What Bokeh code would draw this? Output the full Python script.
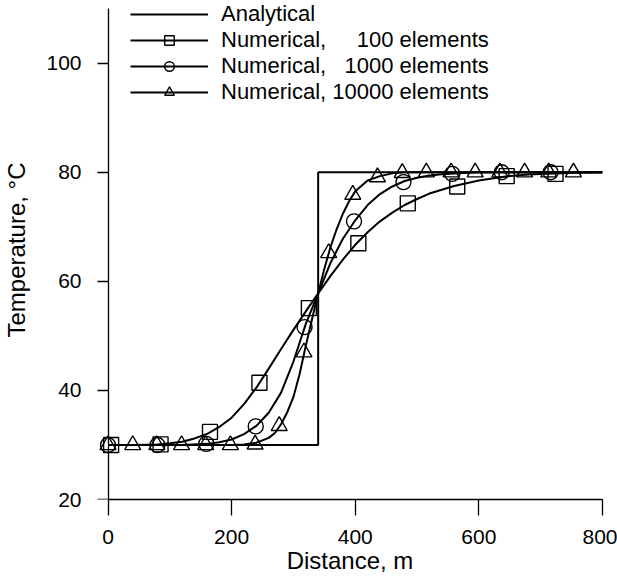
from bokeh.plotting import figure
from bokeh.models import Range1d, Legend, LegendItem, FixedTicker, LinearAxis
from bokeh.embed import file_html
from bokeh.resources import INLINE

# ---------------- data ----------------
analytical_x = [0, 340, 340, 800]
analytical_y = [30, 30, 80, 80]

curve100_x = [0, 40, 80, 100, 120, 140, 160, 180, 200, 220, 240, 260, 280, 300, 320,
              340, 360, 380, 400, 420, 440, 460, 480, 500, 520, 560, 600, 640, 680,
              720, 760, 800]
curve100_y = [30.0, 30.0, 30.1, 30.3, 30.6, 31.2, 32.0, 33.3, 35.0, 37.5, 40.5, 44.0,
              47.6, 51.1, 54.5, 57.8, 61.0, 64.0, 66.7, 69.0, 71.0, 72.6, 74.0, 75.1,
              76.1, 77.5, 78.5, 79.2, 79.6, 79.8, 79.9, 80.0]

curve1000_x = [0, 40, 80, 120, 160, 180, 200, 220, 240, 260, 280, 300, 320, 340, 360,
               380, 400, 420, 440, 460, 480, 500, 520, 540, 560, 600, 640, 680, 720,
               760, 800]
curve1000_y = [30.0, 30.0, 30.0, 30.0, 30.2, 30.5, 31.0, 32.0, 33.5, 35.9, 39.6, 45.3,
               52.2, 57.8, 63.4, 67.8, 71.2, 74.0, 76.0, 77.4, 78.4, 79.0, 79.4, 79.65,
               79.8, 80.0, 80.0, 80.0, 80.0, 80.0, 80.0]

curve10000_x = [0, 40, 80, 120, 160, 200, 220, 240, 260, 270, 280, 290, 300, 310, 320,
                330, 340, 350, 360, 370, 380, 390, 400, 420, 440, 460, 480, 520, 560,
                600, 640, 680, 720, 760, 800]
curve10000_y = [30.0, 30.0, 30.0, 30.0, 30.0, 30.0, 30.1, 30.4, 31.3, 32.2, 33.8, 36.0,
                38.8, 43.0, 48.2, 53.0, 57.8, 62.3, 66.3, 69.6, 72.4, 74.7, 76.5, 78.5,
                79.3, 79.8, 80.0, 80.0, 80.0, 80.0, 80.0, 80.0, 80.0, 80.0, 80.0]

squares_x = [5, 85, 165, 245, 325, 405, 485, 565, 645, 724]
squares_y = [30.0, 30.1, 32.4, 41.4, 55.1, 67.0, 74.3, 77.4, 79.3, 79.7]

circles_x = [0, 80, 159, 239, 318, 398, 478, 557, 637, 716]
circles_y = [30.0, 30.0, 30.2, 33.4, 51.6, 71.0, 78.2, 79.7, 80.0, 80.0]

triangles_x = [0, 40, 79, 119, 158, 198, 238, 277, 317, 357, 396, 436, 476, 515, 555,
               594, 634, 674, 713, 753]
triangles_y = [30.0, 30.0, 30.0, 30.0, 30.0, 30.0, 30.1, 33.5, 47.0, 65.2, 75.9, 79.1,
               79.9, 80.0, 80.0, 80.0, 80.0, 80.0, 80.0, 80.0]

x_ticks = [0, 200, 400, 600, 800]
y_ticks = [20, 40, 60, 80, 100]

labels = ["Analytical",
          "Numerical,\u00a0\u00a0\u00a0\u00a0\u00a0100 elements",
          "Numerical,\u00a0\u00a0\u00a01000 elements",
          "Numerical, 10000 elements"]

FONT = "Liberation Sans"

# ---------------- figure ----------------
# frame slightly larger than the axes so markers at the edges are not clipped
p = figure(width=617, height=576, output_backend="svg", toolbar_location=None,
           x_range=Range1d(-17, 800), y_range=Range1d(20, 111.5),
           min_border_left=97, min_border_right=15, min_border_top=0,
           min_border_bottom=77)
p.outline_line_color = None
p.xgrid.visible = False
p.ygrid.visible = False
p.background_fill_color = "white"
p.border_fill_color = "white"

LW = 2.0
r_an = p.line(analytical_x, analytical_y, line_color="black", line_width=LW)
l100 = p.line(curve100_x, curve100_y, line_color="black", line_width=LW)
l1000 = p.line(curve1000_x, curve1000_y, line_color="black", line_width=LW)
l10000 = p.line(curve10000_x, curve10000_y, line_color="black", line_width=LW)

MLW = 1.4
s100 = p.scatter(squares_x, squares_y, marker="square", size=15, fill_color=None,
                 line_color="black", line_width=MLW)
s1000 = p.scatter(circles_x, circles_y, marker="circle", size=15, fill_color=None,
                  line_color="black", line_width=MLW)
s10000 = p.scatter(triangles_x, triangles_y, marker="triangle", size=16, fill_color=None,
                   line_color="black", line_width=MLW)

# ---------------- axes ----------------
xa = p.xaxis[0]
xa.ticker = FixedTicker(ticks=x_ticks, minor_ticks=[])
xa.bounds = (0, 800)
xa.axis_line_color = "black"
xa.axis_line_width = 1.3
xa.major_tick_line_color = "black"
xa.major_tick_line_width = 1.3
xa.major_tick_in = 0
xa.major_tick_out = 16
xa.minor_tick_line_color = None
xa.major_label_text_font = FONT
xa.major_label_text_font_size = "21px"
xa.major_label_text_color = "black"
xa.major_label_standoff = 14
xa.axis_label = "Distance, m"
xa.axis_label_text_font = FONT
xa.axis_label_text_font_size = "24px"
xa.axis_label_text_font_style = "normal"
xa.axis_label_text_color = "black"
xa.axis_label_standoff = 0

# left axis: carries tick labels and title only
ya = p.yaxis[0]
ya.ticker = FixedTicker(ticks=y_ticks, minor_ticks=[])
ya.axis_line_color = None
ya.major_tick_line_color = None
ya.minor_tick_line_color = None
ya.major_tick_in = 0
ya.major_tick_out = 0
ya.major_label_text_font = FONT
ya.major_label_text_font_size = "21px"
ya.major_label_text_color = "black"
ya.major_label_standoff = 16
ya.axis_label = "Temperature, °C"
ya.axis_label_text_font = FONT
ya.axis_label_text_font_size = "24px"
ya.axis_label_text_font_style = "normal"
ya.axis_label_text_color = "black"
ya.axis_label_standoff = 13

# axis line and ticks drawn at x = 0 (its own labels are not drawn)
yline = LinearAxis(fixed_location=0, bounds=(20, 110),
                   ticker=FixedTicker(ticks=y_ticks, minor_ticks=[]),
                   axis_line_color="black", axis_line_width=1.3,
                   major_tick_line_color="black", major_tick_line_width=1.3,
                   major_tick_in=16, major_tick_out=0,
                   minor_tick_line_color=None,
                   major_label_text_font_size="1px", major_label_text_color=None,
                   major_label_standoff=0)
p.add_layout(yline, "right")

# ---------------- legend ----------------
items = [LegendItem(label=labels[0], renderers=[r_an]),
         LegendItem(label=labels[1], renderers=[l100, s100]),
         LegendItem(label=labels[2], renderers=[l1000, s1000]),
         LegendItem(label=labels[3], renderers=[l10000, s10000])]
legend = Legend(items=items, location=(33, 394), orientation="vertical",
                border_line_color=None, background_fill_alpha=0,
                padding=0, margin=0, spacing=0,
                glyph_width=78, glyph_height=24, label_height=23,
                label_standoff=13,
                label_text_font=FONT, label_text_font_size="22px",
                label_text_color="black")
p.add_layout(legend)

open("out.html", "w").write(file_html(p, INLINE))
